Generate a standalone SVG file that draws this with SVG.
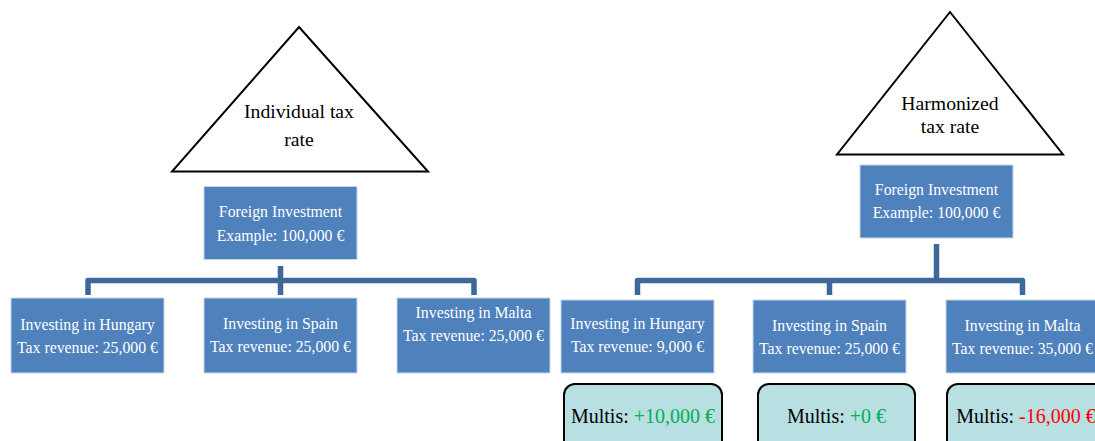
<svg xmlns="http://www.w3.org/2000/svg" width="1095" height="441" viewBox="0 0 1095 441">
<style>
.tri{fill:#fff;stroke:#000;stroke-width:2;stroke-linejoin:miter}
.tt{font-family:"Liberation Serif",serif;font-size:19.7px;fill:#000;text-anchor:middle}
.box{fill:#4f81bd;stroke:#c8d6ea;stroke-width:1}
.bt{font-family:"Liberation Serif",serif;font-size:15.8px;fill:#fff;text-anchor:middle}
.con{fill:none;stroke:#3d6899;stroke-width:5.5;stroke-linejoin:round}
.mb{fill:#b8dfe2;stroke:#000;stroke-width:2}
.mt{font-family:"Liberation Serif",serif;font-size:20px;fill:#000;text-anchor:middle}
.g{fill:#00b050}
.r{fill:#ff0000}
</style>
<g id="connectors">
<path class="con" d="M280.5,266 V295 M88,295 V280.5 H474 V295"/>
<path class="con" d="M936.5,244 V280.5 M637.5,295 V280.5 H1022.5 V295 M829.5,280.5 V295"/>
</g>
<g id="tri-left">
<polygon class="tri" points="299,27 428,171.5 172,171.5"/>
<text class="tt" x="299" y="118">Individual tax</text>
<text class="tt" x="299" y="146">rate</text>
</g>
<g id="tri-right">
<polygon class="tri" points="950,12 1063,154.5 837,154.5"/>
<text class="tt" x="950" y="110">Harmonized</text>
<text class="tt" x="950" y="133">tax rate</text>
</g>
<g id="left-top">
<rect class="box" x="204" y="186.5" width="153" height="73"/>
<text class="bt" x="280.5" y="217">Foreign Investment</text>
<text class="bt" x="280.5" y="241">Example: 100,000 €</text>
</g>
<g id="left-hungary">
<rect class="box" x="11" y="298" width="153" height="75"/>
<text class="bt" x="87.5" y="330">Investing in Hungary</text>
<text class="bt" x="87.5" y="353">Tax revenue: 25,000 €</text>
</g>
<g id="left-spain">
<rect class="box" x="204" y="298" width="153" height="75"/>
<text class="bt" x="280.5" y="329">Investing in Spain</text>
<text class="bt" x="280.5" y="352">Tax revenue: 25,000 €</text>
</g>
<g id="left-malta">
<rect class="box" x="397" y="298" width="153" height="75"/>
<text class="bt" x="473.5" y="318">Investing in Malta</text>
<text class="bt" x="473.5" y="341">Tax revenue: 25,000 €</text>
</g>
<g id="right-top">
<rect class="box" x="860" y="165" width="153" height="73"/>
<text class="bt" x="936.5" y="195">Foreign Investment</text>
<text class="bt" x="936.5" y="218">Example: 100,000 €</text>
</g>
<g id="right-hungary">
<rect class="box" x="561" y="300" width="153" height="73"/>
<text class="bt" x="637.5" y="329">Investing in Hungary</text>
<text class="bt" x="637.5" y="352">Tax revenue: 9,000 €</text>
</g>
<g id="right-spain">
<rect class="box" x="753" y="300" width="153" height="73"/>
<text class="bt" x="829.5" y="331">Investing in Spain</text>
<text class="bt" x="829.5" y="354">Tax revenue: 25,000 €</text>
</g>
<g id="right-malta">
<rect class="box" x="946" y="300" width="153" height="73"/>
<text class="bt" x="1022.5" y="331">Investing in Malta</text>
<text class="bt" x="1022.5" y="354">Tax revenue: 35,000 €</text>
</g>
<g id="multis-hungary">
<rect class="mb" x="564" y="384" width="158" height="70" rx="11"/>
<text class="mt" x="643" y="423">Multis: <tspan class="g">+10,000 €</tspan></text>
</g>
<g id="multis-spain">
<rect class="mb" x="758" y="384" width="157" height="70" rx="11"/>
<text class="mt" x="836.5" y="423">Multis: <tspan class="g">+0 €</tspan></text>
</g>
<g id="multis-malta">
<rect class="mb" x="947" y="384" width="158" height="70" rx="11"/>
<text class="mt" x="1026" y="423">Multis: <tspan class="r">-16,000 €</tspan></text>
</g>
</svg>
